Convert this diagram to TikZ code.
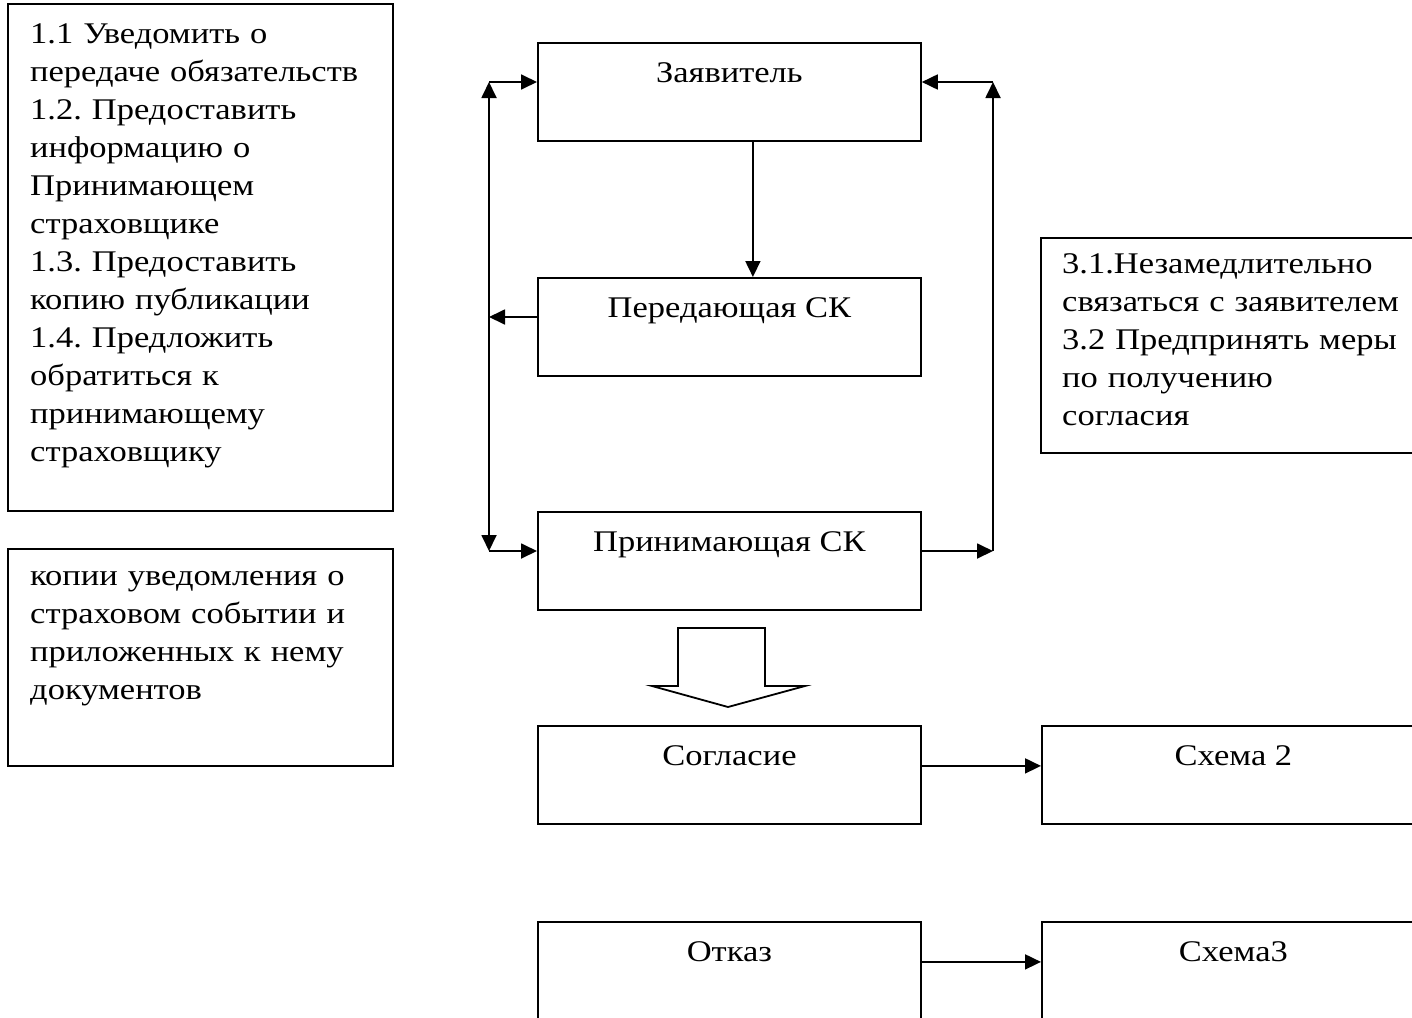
\documentclass[tikz,border=0pt]{standalone}
\usepackage{fontspec}
\setmainfont{Liberation Serif}[FakeStretch=1.15]
\frenchspacing
\usetikzlibrary{arrows.meta}

\tikzset{
  box/.style={draw,line width=1.8pt,anchor=north west,minimum width=383pt,inner sep=0pt,text height=40pt,text depth=58pt},
  txt/.style={anchor=base west,align=left,text width=380pt,inner sep=0pt},
  frame/.style={line width=1.8pt},
  arr/.style={line width=1.8pt,-{Triangle[length=16pt,width=15pt]}},
  dblarr/.style={line width=1.8pt,{Triangle[length=16pt,width=15pt]}-{Triangle[length=16pt,width=15pt]}}
}

\begin{document}
\begin{tikzpicture}[x=1pt,y=-1pt,font=\fontsize{30pt}{38pt}\selectfont]
  \clip (0,0) rectangle (1412,1017);

  \draw[frame] (8,4) rectangle (393,511);
  \node[txt] (steps) at (30,43) {1.1 Уведомить о\\передаче обязательств\\1.2. Предоставить\\информацию о\\Принимающем\\страховщике\\1.3. Предоставить\\копию публикации\\1.4. Предложить\\обратиться к\\принимающему\\страховщику};
  \draw[frame] (8,549) rectangle (393,766);
  \node[txt] (copies) at (30,585) {копии уведомления о\\страховом событии и\\приложенных к нему\\документов};
  \draw[frame] (1041,238) rectangle (1430,453);
  \node[txt] (urgent) at (1062,273) {3.1.Незамедлительно\\связаться с заявителем\\3.2 Предпринять меры\\по получению\\согласия};

  \node[box] (zayav) at (537,42) {Заявитель};
  \node[box] (pered) at (537,277) {Передающая СК};
  \node[box] (prin) at (537,511) {Принимающая СК};
  \node[box] (sogl) at (537,725) {Согласие};
  \node[box] (otkaz) at (537,921) {Отказ};
  \node[box] (shema2) at (1041,725) {Схема 2};
  \node[box] (shema3) at (1041,921) {Схема3};

  \coordinate (lt) at (489,82);
  \coordinate (lm) at (489,317);
  \coordinate (lb) at (489,551);
  \coordinate (rt) at (993,82);
  \coordinate (rb) at (993,551);

  \draw[arr] ([xshift=23.5pt]zayav.south) -- ([xshift=23.5pt]pered.north);
  \draw[dblarr] (lb) -- (lt);
  \draw[arr] (lt) -- (lt -| zayav.west);
  \draw[arr] (lb) -- (lb -| prin.west);
  \draw[arr] (lm -| pered.west) -- (lm);
  \draw[arr] (rb -| prin.east) -- (rb);
  \draw[arr] (rb) -- (rt);
  \draw[arr] (rt) -- (rt -| zayav.east);
  \draw[arr] ([yshift=9pt]sogl.east) -- ([yshift=9pt]shema2.west);
  \draw[arr] ([yshift=9pt]otkaz.east) -- ([yshift=9pt]shema3.west);

  \draw[frame] (678,628) -- (765,628) -- (765,686) -- (805,686) -- (728,707) -- (652,686) -- (678,686) -- cycle;
\end{tikzpicture}
\end{document}
